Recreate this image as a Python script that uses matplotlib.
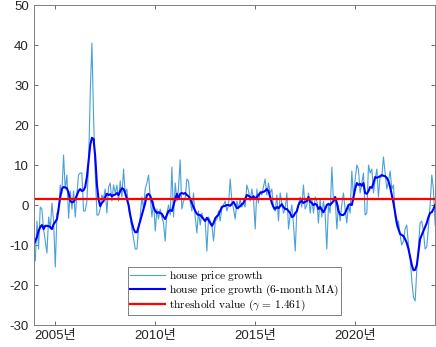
import numpy as np
import pandas as pd
import matplotlib
matplotlib.use("Agg")
import matplotlib.pyplot as plt

plt.rcParams['font.family'] = ['Liberation Sans', 'Noto Sans CJK KR']
plt.rcParams['mathtext.fontset'] = 'cm'
plt.rcParams['axes.unicode_minus'] = False

# monthly observations, 2003-12 .. 2024-01
start_month = '2003-12-01'

growth = [
    # 2003-12 .. 2007-03
    -12, -14, -4, -11, -0.5, -1, -6, -9, -12, -3, -6, 0.5, -4, -15.5, -2, -2, 5, 3, 12.5, 4,
    7.5, -3.3, 3.5, -1, 3.5, -3, 3, 7.5, 8, 8, -1.5, -1.5, 1, 10, 28, 40.5, 22, 8, -2.5, -2.5,
    # 2007-04 .. 2010-01
    -1, 2.5, 1.5, 4, -2, 4.5, 5.5, 1, 5, 3, 5, 1, 6, 2, 9, 3, 4, -1, -3, -6,
    -8.5, -11, -11, -6, -3, 2, -1, 4, 5.5, 7.5, 2, -3, 1, -6.5,
    # 2010-02 .. 2013-03
    -1, -3.5, -1, -3, -4.5, -9, -2, 0, -2.5, 9.5, -3, 5.5, 1, 4, 11.3, -1, 1, 1.5, 6.5, 6,
    1, -1.5, 3, -3, -7, -1.5, -5, -2, -3.5, -4, -11.5, -3, -4, -5, -9, -4, -3.5, -1.5,
    # 2013-04 .. 2016-07
    -4, -1, 0, 1, -1.5, 0, 6.5, 1, -1, -3.5, 1, -1, 1.5, -0.5, 0.5, -0.5, 5, 3.5, 1, 4,
    1.5, -6, 4, 0.5, 3.5, 2.5, 4.5, 6.5, 2.5, 5.5, 3, 4, -1, -1.5, 2.5, -4, 3, 0.5, -2, -1,
    # 2016-08 .. 2019-11
    3, -6, -2.5, 0, -5, -11.5, -1, 0, 2, -0.5, 5, -1, 0, 3, -2, 1.5, -2, 2, 1, -4.5,
    1.5, -3, 1, -2, -11, 0, -2, 9.5, 1, 1.5, -6, 0, -4, 0, 3, -1, -4.5, 0, -2, 8.5,
    # 2019-12 .. 2024-01
    2, 6.5, 10, 9, 3, 5.5, 8, -2.5, -2, 10, 8, 9, 3, 6.5, 9, 2, 7, 7, 12, 8,
    4, 6, 8.5, 4, 5, -3, -5.5, -4, -7.5, -10, -9, -6, -5, -10, -13, -19, -23, -24, -16, -11,
    -4.5, -4, -6.5, -11, -10.5, -5.5, 0, 7.5, 4, -5,
]

growth_ma6 = [
    -10, -9, -8, -6.5, -5.5, -5, -6, -5.2, -5.2, -5.3, -5.5, -6, -4.8, -4.2, -3.5, -1, 2, 4, 4.5, 4.4,
    4.2, 3, 1, 0.7, 0.8, 1.5, 2.5, 3.5, 4, 3.5, 3.7, 4.5, 7, 11, 15, 16.8, 16.5, 12, 5, 1.5,
    -0.3, 0.5, 1, 2, 2.8, 2.5, 2.7, 2.2, 2.5, 2.6, 3, 2.5, 3.5, 4.2, 4, 3, 1.5, 0, -2.5, -4.5,
    -6, -6.8, -6.8, -5.5, -4, -2.5, -1, 0.5, 2.5, 2.8, 2.3, 1, -0.5, -1.5,
    -2, -1.8, -2, -2.2, -3, -3.5, -2.5, -1.5, -1.3, -1.5, 0, 1.5, 2.8, 1.5, 2.8, 3, 2.8, 3, 2.5, 2.2,
    1.5, 0.5, -0.5, -1.5, -2.2, -2.5, -2.5, -3, -3.5, -4, -3.2, -3.8, -4.5, -5.2, -4.5, -3.3, -2.8, -2.5,
    -1.5, -0.5, -0.3, -0.2, 0, 0, -0.2, 0.3, 0.8, 0, -0.8, -0.6, -0.3, 0.2, 0.5, 1.5, 2.5, 2.3, 2, 1.8,
    2.2, 1.7, 2, 2.5, 3, 3.2, 3.3, 3.5, 4, 3.5, 2, 0.5, -0.5, -1, -0.5, -0.8, -0.3, 0.2, -0.5, -1,
    -1, -1.5, -2, -3, -2.8, -2, -1.5, 0, 0.8, 1, 0.5, 0.8, 1, 2, 0.8, 0.5, 0, 0.3, 0, -1,
    -0.5, -1.2, -1.8, -1, 0, 0.3, 0, 0.5, 1, 2, 0.5, -1.5, -2.3, -2.5, -2.5, -2, -1, 0, 0.2, 0,
    2, 4, 5.5, 5, 5.3, 4.8, 5.5, 3, 2.8, 3.5, 4.5, 4.3, 5.5, 7, 6.8, 7, 7.2, 7.5, 7.3, 7.2,
    6.8, 6, 4.5, 2.5, 0.5, -2, -4.5, -6, -7.2, -7.5, -7.8, -8.5, -9.5, -11, -13, -15, -16.3, -16.2, -15, -12,
    -8.5, -7.5, -6.5, -5.5, -4.5, -3, -2, -1.8, -1, 0,
]

gamma = 1.461
tick_years = [2005, 2010, 2015, 2020]
tick_labels = [f'{y}년' for y in tick_years]

dates = pd.date_range(start_month, periods=len(growth), freq='MS')

fig = plt.figure(figsize=(4.36, 3.47), dpi=100)
ax = fig.add_axes([0.077, 0.0634, 0.921, 0.922])

ax.plot(dates, growth, color='#4aa0d8', linewidth=0.8,
        label=r'$\mathrm{house\ price\ growth}$')
ax.plot(dates, growth_ma6, color='#0000ff', linewidth=1.5,
        label=r'$\mathrm{house\ price\ growth\ (6\text{-}month\ MA)}$')
ax.axhline(gamma, color='#ff0000', linewidth=1.6,
           label=r'$\mathrm{threshold\ value\ (}\gamma\,=\,1.461\mathrm{)}$')

ax.set_xlim(dates[0], dates[-1])
ax.set_ylim(-30, 50)
ax.set_yticks(np.arange(-30, 51, 10))
ax.set_xticks([pd.Timestamp(f'{y}-01-01') for y in tick_years])
ax.set_xticklabels(tick_labels)

gray = '#262626'
for s in ax.spines.values():
    s.set_color('#7f7f7f')
    s.set_linewidth(0.7)
ax.tick_params(direction='in', length=3, width=0.6, color='#555555',
               labelsize=9.5, labelcolor=gray, top=True, right=True)

leg = ax.legend(loc='lower left', bbox_to_anchor=(0.235, 0.031), borderaxespad=0,
                fancybox=False, framealpha=1, edgecolor='#7f7f7f', fontsize=8.2,
                handlelength=3.1, handletextpad=0.35, labelspacing=0.0,
                borderpad=0.15)
leg.get_frame().set_linewidth(0.7)

fig.savefig('out.png', dpi=100)
